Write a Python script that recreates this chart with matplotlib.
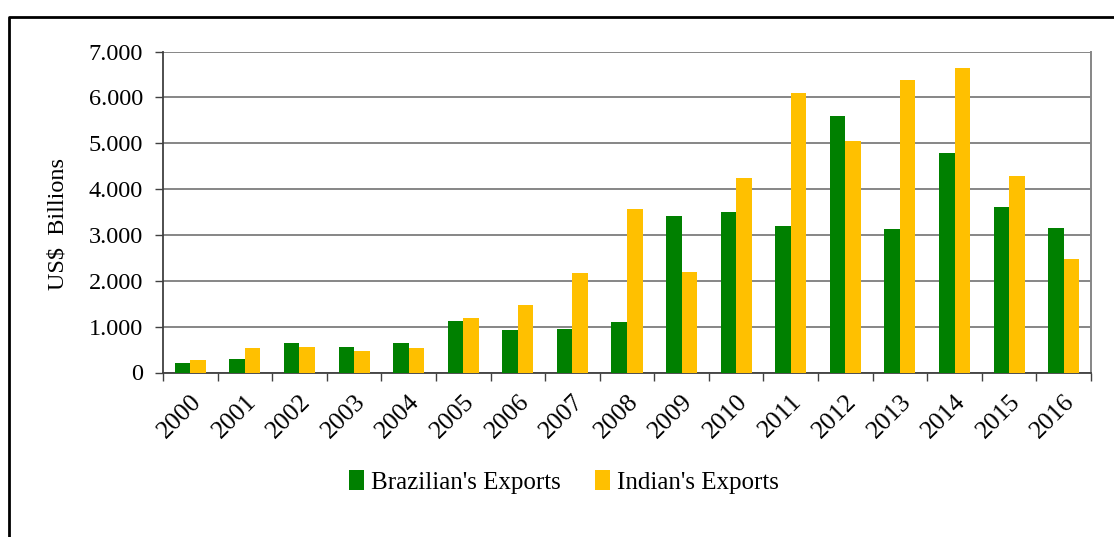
import matplotlib
matplotlib.use("Agg")
import matplotlib.pyplot as plt
import numpy as np
from matplotlib.lines import Line2D

years = ["2000", "2001", "2002", "2003", "2004", "2005", "2006", "2007", "2008",
         "2009", "2010", "2011", "2012", "2013", "2014", "2015", "2016"]
brazil = [211, 284, 640, 546, 640, 1128, 932, 946, 1092,
          3413, 3494, 3195, 5590, 3122, 4797, 3610, 3159]
india = [269, 531, 560, 473, 538, 1186, 1470, 2162, 3566,
         2183, 4243, 6085, 5044, 6369, 6645, 4295, 2474]
y_ticks = [0, 1000, 2000, 3000, 4000, 5000, 6000, 7000]
y_labels = ["0", "1.000", "2.000", "3.000", "4.000", "5.000", "6.000", "7.000"]

plt.rcParams["font.family"] = ["Liberation Serif", "DejaVu Serif"]

W, H = 1114, 537
fig = plt.figure(figsize=(W / 100, H / 100), dpi=100)
ax = fig.add_axes([163 / W, 1 - 372.5 / H, (1091 - 163) / W, (372.5 - 51.5) / H])

x = np.arange(len(years))
bw = 0.285
ax.bar(x - bw / 2, brazil, bw, color="#008000", label="Brazilian's Exports", zorder=3)
ax.bar(x + bw / 2, india, bw, color="#FFC000", label="Indian's Exports", zorder=3)

ax.set_xlim(-0.5, len(years) - 0.5)
ax.set_ylim(0, 7000)
ax.set_yticks(y_ticks)
ax.set_yticklabels(y_labels, fontsize=17.5)
ax.yaxis.grid(True, color="#868686", linewidth=1.4, zorder=0)

ax.set_xticks(x)
ax.set_xticklabels(years, fontsize=18.5, rotation=45, ha="right", rotation_mode="anchor")
ax.tick_params(axis="x", length=0, pad=13)
ax.set_xticks(np.arange(-0.5, len(years)), minor=True)
ax.tick_params(axis="x", which="minor", length=6, width=1, color="#404040", direction="out")
ax.tick_params(axis="y", length=6, width=1, color="#404040", direction="out", pad=8.5)

for side in ["left", "bottom"]:
    ax.spines[side].set_color("#404040")
    ax.spines[side].set_linewidth(1.3)
ax.spines["right"].set_color("#868686")
ax.spines["right"].set_linewidth(1.4)
ax.spines["top"].set_visible(False)

ax.set_ylabel("US$  Billions", fontsize=17.5, va="center")
ax.yaxis.set_label_coords((58 - 163) / 928, (372.5 - 224) / 321)

fig.legend(loc="center", bbox_to_anchor=(564 / W, 1 - 482 / H), ncol=2, frameon=False,
           fontsize=18, handlelength=0.6, handleheight=0.85, handletextpad=0.3,
           columnspacing=1.35)

# outer frame (left and top edges visible)
fig.add_artist(Line2D([8.5 / W, 8.5 / W, 1.0], [0, 1 - 16.5 / H, 1 - 16.5 / H],
                      transform=fig.transFigure, color="black", linewidth=2))

fig.savefig("out.png", dpi=100)
